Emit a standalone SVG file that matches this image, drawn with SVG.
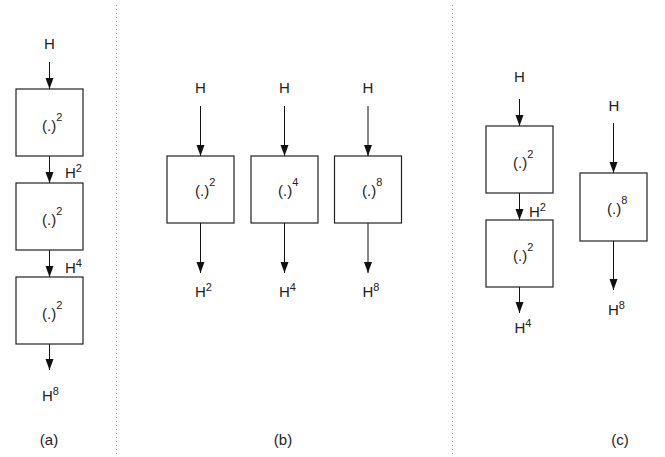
<svg xmlns="http://www.w3.org/2000/svg" width="665" height="457" viewBox="0 0 665 457">
<style>
.box{fill:#fff;stroke:#222;stroke-width:1.2}
.ln{stroke:#111;stroke-width:1;fill:none;marker-end:url(#ah)}
.sep{stroke:#999;stroke-width:1;stroke-dasharray:1 3}
text{font-family:"Liberation Sans",Arial,sans-serif;font-size:15px;fill:#222}
.c{text-anchor:middle}
.sup{font-size:11px}
</style>
<defs>
<marker id="ah" markerUnits="userSpaceOnUse" markerWidth="12" markerHeight="10" refX="11" refY="4" orient="auto">
<path d="M0,0 L11,4 L0,8 z" fill="#111"/>
</marker>
</defs>
<g id="separators">
<line class="sep" x1="116.5" y1="5" x2="116.5" y2="456"/>
<line class="sep" x1="452.5" y1="5" x2="452.5" y2="456"/>
</g>
<g id="connectors">
<line class="ln" x1="49.5" y1="62" x2="49.5" y2="89"/>
<line class="ln" x1="49.5" y1="156" x2="49.5" y2="183"/>
<line class="ln" x1="49.5" y1="250" x2="49.5" y2="277"/>
<line class="ln" x1="49.5" y1="344" x2="49.5" y2="370"/>
<line class="ln" x1="200.5" y1="106" x2="200.5" y2="156"/>
<line class="ln" x1="200.5" y1="223" x2="200.5" y2="273"/>
<line class="ln" x1="284.5" y1="106" x2="284.5" y2="156"/>
<line class="ln" x1="284.5" y1="223" x2="284.5" y2="273"/>
<line class="ln" x1="368" y1="106" x2="368" y2="156"/>
<line class="ln" x1="368" y1="223" x2="368" y2="273"/>
<line class="ln" x1="519.5" y1="99" x2="519.5" y2="126"/>
<line class="ln" x1="519.5" y1="193" x2="519.5" y2="220"/>
<line class="ln" x1="519.5" y1="287" x2="519.5" y2="313"/>
<line class="ln" x1="613.5" y1="123" x2="613.5" y2="173"/>
<line class="ln" x1="613.5" y1="241" x2="613.5" y2="290"/>
</g>
<g id="a-box1"><rect class="box" x="16" y="89" width="67" height="67"/><text x="42" y="131">(.)<tspan class="sup" dy="-10">2</tspan></text></g>
<g id="a-box2"><rect class="box" x="16" y="183" width="67" height="67"/><text x="42" y="225">(.)<tspan class="sup" dy="-10">2</tspan></text></g>
<g id="a-box3"><rect class="box" x="16" y="277" width="67" height="67"/><text x="42" y="319">(.)<tspan class="sup" dy="-10">2</tspan></text></g>
<g id="a-labels">
<text class="c" x="49.5" y="49">H</text>
<text x="65" y="178">H<tspan class="sup" dy="-6">2</tspan></text>
<text x="65" y="273">H<tspan class="sup" dy="-6">4</tspan></text>
<text x="42" y="401">H<tspan class="sup" dy="-6">8</tspan></text>
<text class="c" x="49" y="445">(a)</text>
</g>
<g id="b-box1"><rect class="box" x="167" y="156" width="67" height="67"/><text x="195" y="196">(.)<tspan class="sup" dy="-10">2</tspan></text></g>
<g id="b-box2"><rect class="box" x="251" y="156" width="67" height="67"/><text x="278" y="196">(.)<tspan class="sup" dy="-10">4</tspan></text></g>
<g id="b-box3"><rect class="box" x="334.5" y="156" width="67" height="67"/><text x="362" y="196">(.)<tspan class="sup" dy="-10">8</tspan></text></g>
<g id="b-labels">
<text class="c" x="200.5" y="93">H</text>
<text class="c" x="284.5" y="93">H</text>
<text class="c" x="368" y="93">H</text>
<text x="195" y="297">H<tspan class="sup" dy="-6">2</tspan></text>
<text x="279" y="297">H<tspan class="sup" dy="-6">4</tspan></text>
<text x="362.5" y="297">H<tspan class="sup" dy="-6">8</tspan></text>
<text class="c" x="283" y="445">(b)</text>
</g>
<g id="c-box1"><rect class="box" x="486" y="126" width="67" height="67"/><text x="513" y="168">(.)<tspan class="sup" dy="-10">2</tspan></text></g>
<g id="c-box2"><rect class="box" x="486" y="220" width="67" height="67"/><text x="513" y="261">(.)<tspan class="sup" dy="-10">2</tspan></text></g>
<g id="c-box3"><rect class="box" x="580" y="173" width="67" height="68"/><text x="607" y="214">(.)<tspan class="sup" dy="-10">8</tspan></text></g>
<g id="c-labels">
<text class="c" x="519.5" y="82">H</text>
<text x="529" y="217">H<tspan class="sup" dy="-6">2</tspan></text>
<text x="514.5" y="333">H<tspan class="sup" dy="-6">4</tspan></text>
<text class="c" x="614" y="111">H</text>
<text x="608" y="315">H<tspan class="sup" dy="-6">8</tspan></text>
<text class="c" x="620" y="445">(c)</text>
</g>
</svg>
